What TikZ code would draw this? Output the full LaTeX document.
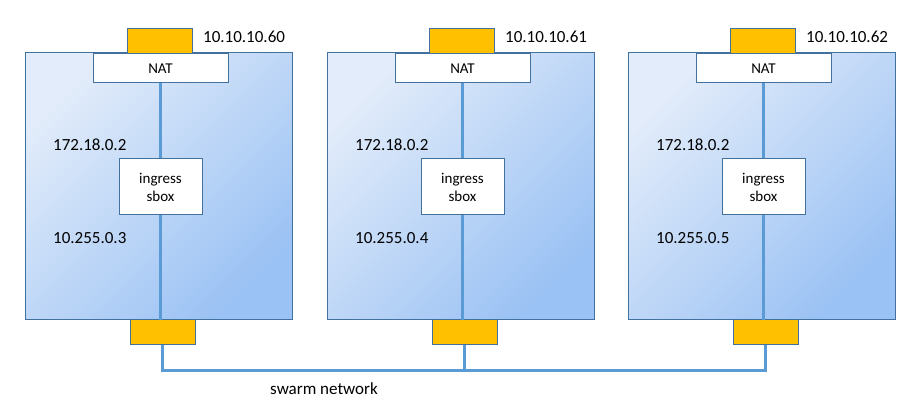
\documentclass[tikz,border=0pt]{standalone}
\usepackage{fontspec}
\setmainfont{Carlito}
\usetikzlibrary{calc}
\definecolor{hostlight}{RGB}{226,236,250}
\definecolor{hostdark}{RGB}{155,194,244}
\definecolor{edgeblue}{RGB}{65,113,156}
\definecolor{netblue}{RGB}{91,155,213}
\definecolor{ifyellow}{RGB}{255,192,0}
\tikzset{
  hostbox/.style={draw=edgeblue, line width=1pt, top color=hostlight, bottom color=hostdark, shading angle=45, minimum width=267pt, minimum height=266pt, inner sep=0pt},
  natbox/.style={draw=edgeblue, line width=1pt, fill=white, minimum width=135pt, minimum height=29pt, inner sep=0pt, font=\fontsize{15}{18}\selectfont},
  sboxbox/.style={draw=edgeblue, line width=1pt, fill=white, minimum width=83pt, minimum height=56pt, inner sep=0pt, align=center, font=\fontsize{15}{18}\selectfont},
  ifbox/.style={draw=edgeblue, line width=1pt, fill=ifyellow, minimum width=65pt, minimum height=25pt, inner sep=0pt},
  iplabel/.style={anchor=west, inner sep=0pt, font=\fontsize{17}{20}\selectfont},
  net/.style={draw=netblue, line width=3pt}
}
\begin{document}
\begin{tikzpicture}[x=1pt, y=-1pt]
\useasboundingbox (0,0) rectangle (920,403);
\foreach \i/\x/\ip/\ov in {1/25/60/3, 2/327/61/4, 3/628/62/5} {
  \node[hostbox] (host\i) at (\x+133.5, 186) {};
  \node[ifbox] (pub\i) at (\x+135, 41) {};
  \node[natbox] (nat\i) at (\x+135.5, 68.5) {NAT};
  \node[sboxbox] (ing\i) at (\x+135.5, 187) {ingress\\sbox};
  \node[ifbox] (eth\i) at (\x+137.5, 331.5) {};
  \coordinate (hb\i) at (ing\i.south |- host\i.south);
  \draw[net] (nat\i.south) -- (ing\i.north);
  \draw[net] (ing\i.south) -- (hb\i);
  \node[iplabel] (pubip\i) at (\x+178, 37) {10.10.10.\ip};
  \node[iplabel] (brip\i) at (\x+28, 145) {172.18.0.2};
  \node[iplabel] (ovip\i) at (\x+28, 238) {10.255.0.\ov};
  \coordinate (bus\i) at (eth\i.south |- 0,370);
}
\draw[net] (eth1.south) -- (bus1) -- (bus3) -- (eth3.south);
\draw[net] (eth2.south) -- (bus2);
\node[iplabel] (swarm) at (270, 389) {swarm network};
\end{tikzpicture}
\end{document}
